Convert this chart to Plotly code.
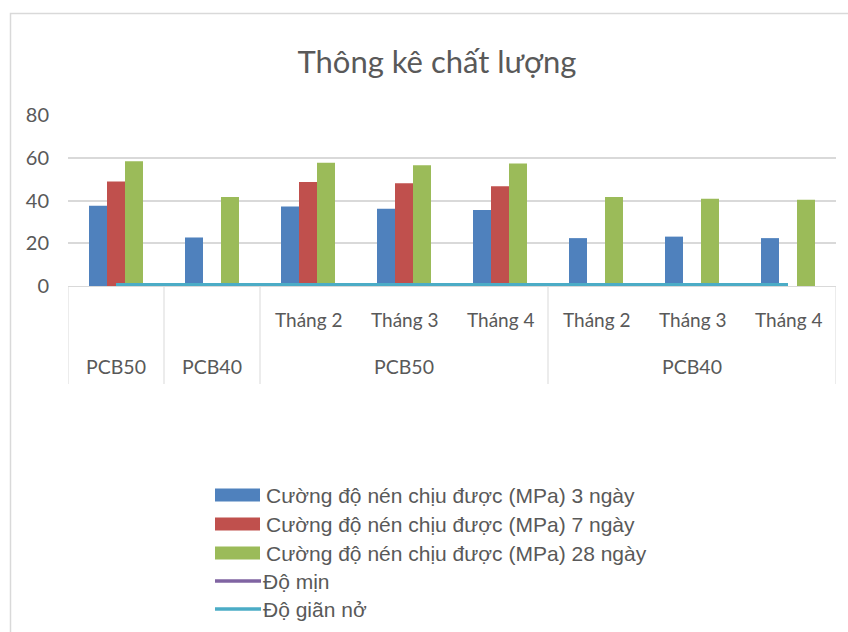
import plotly.graph_objects as go

# ---- data ----
cat_inner = ["", "", "Tháng 2", "Tháng 3", "Tháng 4", "Tháng 2", "Tháng 3", "Tháng 4"]
cat_outer = ["PCB50", "PCB40", "PCB50", "PCB50", "PCB50", "PCB40", "PCB40", "PCB40"]

strength_3d = [37.6, 22.7, 37.2, 36.1, 35.6, 22.4, 23.1, 22.4]
strength_7d = [48.9, None, 48.6, 48.1, 46.7, None, None, None]
strength_28d = [58.4, 41.6, 57.7, 56.5, 57.3, 41.6, 40.8, 40.3]
fineness = [0.5, 0.5, 0.5, 0.5, 0.5, 0.5, 0.5, 0.5]
expansion = [0.7, 0.7, 0.7, 0.7, 0.7, 0.7, 0.7, 0.7]

series_names = [
    "Cường độ nén chịu được (MPa) 3 ngày",
    "Cường độ nén chịu được (MPa) 7 ngày",
    "Cường độ nén chịu được (MPa) 28 ngày",
    "Độ mịn",
    "Độ giãn nở",
]
y_ticks = [0, 20, 40, 60, 80]

# ---- style ----
W, H = 848, 632
L, R, T, B = 68, 12, 115, 346
TEXT = "#595959"
GRID = "#D9D9D9"
COLORS = ["#4F81BD", "#C0504D", "#9BBB59", "#8064A2", "#4BACC6"]
NARROW = "Lato, Roboto, sans-serif"
LEGEND_FONT = "Liberation Sans, Arial, sans-serif"

x_ids = [f"{o}|{i}|{k}" for k, (o, i) in enumerate(zip(cat_outer, cat_inner))]
plot_h = H - T - B


def py(pixel_y):
    """Pixel row -> paper y."""
    return (H - B - pixel_y) / plot_h


def px(pixel_x):
    """Pixel column -> paper x."""
    return (pixel_x - L) / (W - L - R)


fig = go.Figure()
for vals, name, col in zip([strength_3d, strength_7d, strength_28d], series_names[:3], COLORS[:3]):
    fig.add_trace(go.Bar(x=x_ids, y=vals, name=name, marker_color=col,
                         marker_line_width=0, showlegend=False))
for vals, name, col in zip([fineness, expansion], series_names[3:], COLORS[3:]):
    fig.add_trace(go.Scatter(x=x_ids, y=vals, name=name, mode="lines",
                             line=dict(color=col, width=3), showlegend=False))

shapes = []
annotations = []

# category table under the plot
n = len(x_ids)
runs = []
start = 0
for k in range(1, n + 1):
    if k == n or cat_outer[k] != cat_outer[start]:
        runs.append((start, k - 1, cat_outer[start]))
        start = k
edges = [-0.5] + [r[1] + 0.5 for r in runs]
for e in edges:
    shapes.append(dict(type="line", xref="x", yref="paper", x0=e, x1=e,
                       y0=py(286), y1=py(384), line=dict(color=GRID, width=1)))
for a, b, label in runs:
    annotations.append(dict(xref="x", yref="paper", x=(a + b) / 2, y=py(366),
                            text=label, showarrow=False, yanchor="middle",
                            font=dict(family=NARROW, size=19.5, color=TEXT)))
for k, lab in enumerate(cat_inner):
    if lab:
        annotations.append(dict(xref="x", yref="paper", x=k, y=py(319),
                                text=lab, showarrow=False, yanchor="middle",
                                font=dict(family=NARROW, size=19, color=TEXT)))

# chart frame
shapes.append(dict(type="rect", xref="paper", yref="paper",
                   x0=px(10.5), x1=px(900), y0=py(13.5), y1=py(700),
                   line=dict(color="#D9D9D9", width=1.5), layer="below"))

# legend
rows = [495, 524, 553, 581, 609]
for k, (name, col) in enumerate(zip(series_names, COLORS)):
    yc = rows[k]
    if k < 3:
        shapes.append(dict(type="rect", xref="paper", yref="paper",
                           x0=px(215), x1=px(260), y0=py(yc - 6.5), y1=py(yc + 6.5),
                           fillcolor=col, line=dict(width=0)))
        tx = 264
    else:
        shapes.append(dict(type="line", xref="paper", yref="paper",
                           x0=px(215), x1=px(261), y0=py(yc), y1=py(yc),
                           line=dict(color=col, width=3.5)))
        tx = 261
    annotations.append(dict(xref="paper", yref="paper", x=px(tx), y=py(yc),
                            text=name, showarrow=False, xanchor="left",
                            yanchor="middle",
                            font=dict(family=LEGEND_FONT, size=21, color=TEXT)))

fig.update_layout(
    width=W, height=H,
    margin=dict(l=L, r=R, t=T, b=B),
    paper_bgcolor="white", plot_bgcolor="white",
    barmode="group", bargap=0.4375, bargroupgap=0,
    title=dict(text="Thông kê chất lượng", x=437 / W, xanchor="center",
               y=1 - 62 / H, yanchor="middle",
               font=dict(family=NARROW, size=31, color=TEXT)),
    xaxis=dict(type="category", showticklabels=False, ticks="",
               showgrid=False, showline=True, linecolor=GRID, linewidth=1,
               range=[-0.5, n - 0.5], fixedrange=True),
    yaxis=dict(range=[0, 80], tickvals=y_ticks, showgrid=True,
               gridcolor=GRID, gridwidth=1.5, zeroline=False, showline=False,
               ticks="", ticklabelstandoff=18,
               tickfont=dict(family=NARROW, size=20, color=TEXT),
               fixedrange=True),
    shapes=shapes,
    annotations=annotations,
)

fig.write_html("out.html")
